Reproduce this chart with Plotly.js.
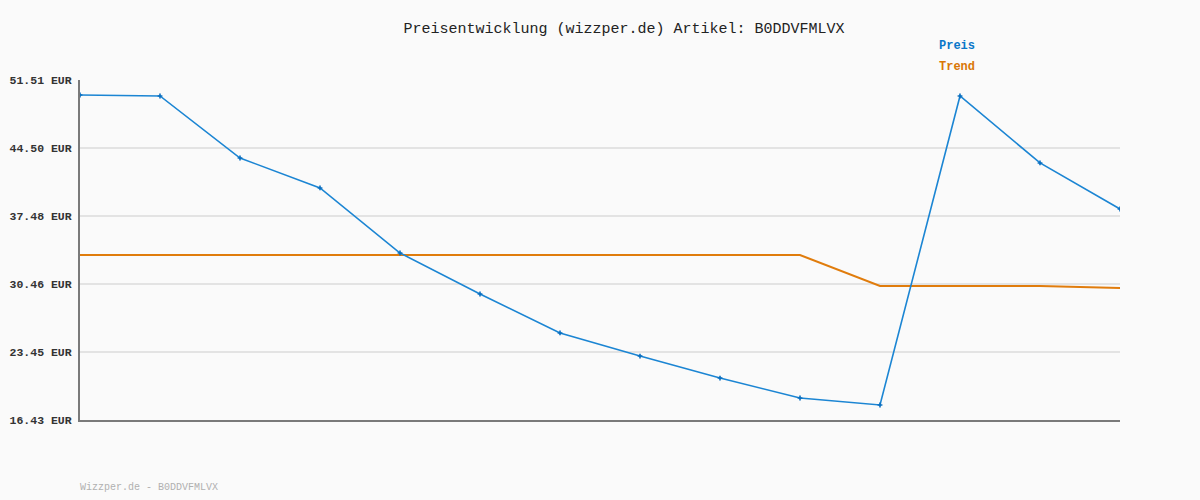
<!DOCTYPE html>
<html>
<head>
<meta charset="utf-8">
<script src="https://cdn.plot.ly/plotly-3.0.1.min.js"></script>
<style>html,body{margin:0;padding:0;background:#fafafa;}#chart{width:1200px;height:500px;}</style>
</head>
<body>
<div id="chart"></div>
<script>
const points = [1, 2, 3, 4, 5, 6, 7, 8, 9, 10, 11, 12, 13, 14];
const preis = [49.96, 49.86, 43.46, 40.37, 33.66, 29.43, 25.41, 23.03, 20.76, 18.70, 17.98, 49.86, 42.95, 38.20];
const trend = [33.45, 33.45, 33.45, 33.45, 33.45, 33.45, 33.45, 33.45, 33.45, 33.45, 30.26, 30.26, 30.26, 30.05];
const tickVals = [16.43, 23.45, 30.46, 37.48, 44.50, 51.51];
const tickText = ["16.43 EUR", "23.45 EUR", "30.46 EUR", "37.48 EUR", "44.50 EUR", "51.51 EUR"];
const seriesNames = ["Preis", "Trend"];
const titleText = "Preisentwicklung (wizzper.de) Artikel: B0DDVFMLVX";
const footerText = "Wizzper.de - B0DDVFMLVX";

const blue = "#1b85d3";
const orange = "#e07c0c";
const mono = "'Liberation Mono', 'DejaVu Sans Mono', monospace";

const traces = [
  {x: points, y: trend, name: seriesNames[1], mode: "lines", line: {color: orange, width: 2}, hoverinfo: "y"},
  {x: points, y: preis, name: seriesNames[0], mode: "lines+markers", line: {color: blue, width: 1.6},
   marker: {symbol: "cross", size: 4, color: "#0a6fc0"}, hoverinfo: "y"}
];

// plot area spans pixel rows 80..420 (340px)
const py = p => (420 - p) / 340;

const layout = {
  width: 1200, height: 500,
  paper_bgcolor: "#fafafa", plot_bgcolor: "#fafafa",
  margin: {l: 80, r: 80, t: 80, b: 80},
  showlegend: false,
  title: {text: titleText, x: 0.52, xref: "container", y: 0.944, yref: "container", yanchor: "middle",
          font: {family: mono, size: 15, color: "#222"}},
  xaxis: {range: [1, 14], showgrid: false, zeroline: false, showticklabels: false, ticks: "",
          showline: true, linecolor: "#7a7a7a", linewidth: 2, fixedrange: true},
  yaxis: {range: [16.43, 51.51], tickvals: tickVals, ticktext: tickText, showgrid: true,
          gridcolor: "#e3e3e3", gridwidth: 2, zeroline: false, showline: true, linecolor: "#7a7a7a",
          linewidth: 2, ticks: "", ticklabelstandoff: 4,
          tickfont: {family: mono, size: 11.5, color: "#333", weight: "bold"}},
  annotations: [
    {text: "<b>" + seriesNames[0] + "</b>", xref: "paper", yref: "paper", x: (937 - 80) / 1040, xanchor: "left",
     y: py(46), yanchor: "middle", showarrow: false, font: {family: mono, size: 12, color: "#0a77c9"}},
    {text: "<b>" + seriesNames[1] + "</b>", xref: "paper", yref: "paper", x: (937 - 80) / 1040, xanchor: "left",
     y: py(67), yanchor: "middle", showarrow: false, font: {family: mono, size: 12, color: "#d97706"}},
    {text: footerText, xref: "paper", yref: "paper", x: -2 / 1040, xanchor: "left",
     y: py(487), yanchor: "middle", showarrow: false, font: {family: mono, size: 10, color: "#b0b0b0"}}
  ]
};

Plotly.newPlot("chart", traces, layout, {displayModeBar: false, staticPlot: true});
</script>
</body>
</html>
